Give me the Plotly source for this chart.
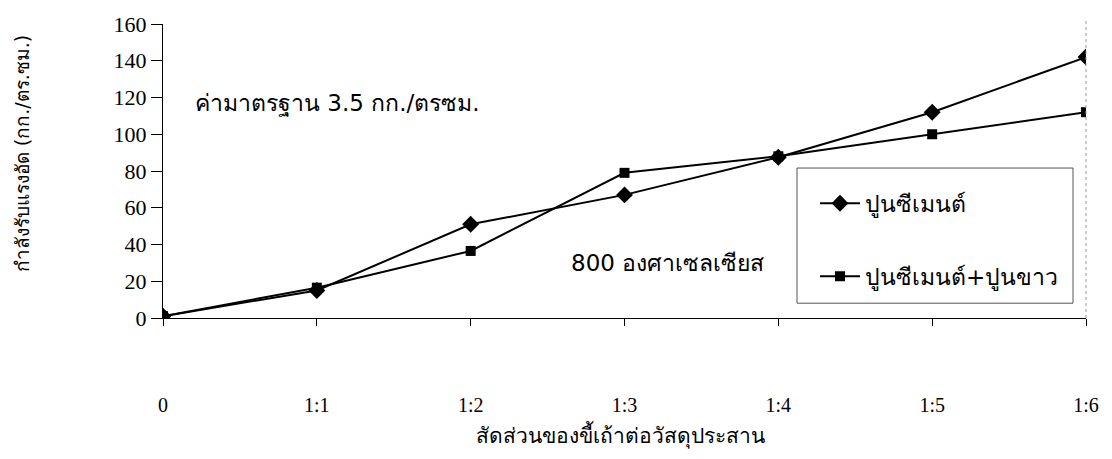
import plotly.graph_objects as go

# Mix ratios of ash to binder and compressive strength (kg/sq.cm)
ratios = ["0", "1:1", "1:2", "1:3", "1:4", "1:5", "1:6"]
cement = [1, 15, 51, 67, 87.5, 112, 142]
cement_lime = [1, 16.5, 36.5, 79, 88, 100, 112]
y_ticks = [0, 20, 40, 60, 80, 100, 120, 140, 160]

xpos = list(range(len(ratios)))

thai_font = "DejaVu Sans, Noto Sans, sans-serif"
serif_font = "Liberation Serif, Times New Roman, serif"

# plot area in pixels
L, R, T, B = 163, 1086, 20, 318


def px_x(px):
    return (px - L) / (R - L)


def px_y(py):
    return (B - py) / (B - T)


fig = go.Figure()
fig.add_trace(go.Scatter(
    x=xpos, y=cement, name="ปูนซีเมนต์", mode="lines+markers",
    line=dict(color="black", width=2),
    marker=dict(symbol="diamond", size=13, color="black"),
    legendgroup="a",
))
fig.add_trace(go.Scatter(
    x=xpos, y=cement_lime, name="ปูนซีเมนต์+ปูนขาว", mode="lines+markers",
    line=dict(color="black", width=2),
    marker=dict(symbol="square", size=10, color="black"),
    legendgroup="b",
))

fig.update_layout(
    width=1112, height=459,
    margin=dict(l=L, r=1112 - R, t=T, b=459 - B),
    paper_bgcolor="white", plot_bgcolor="white",
    showlegend=True,
    legend=dict(
        x=px_x(815), y=px_y(180),
        xanchor="left", yanchor="top",
        borderwidth=0, bgcolor="rgba(0,0,0,0)",
        font=dict(family=thai_font, size=23, color="black"),
        tracegroupgap=40, traceorder="grouped",
        itemwidth=40,
    ),
    xaxis=dict(
        range=[0, 6], tickvals=xpos, ticktext=ratios,
        showline=True, linecolor="black", linewidth=1,
        ticks="outside", ticklen=7, tickcolor="black",
        showgrid=False, zeroline=False,
        ticklabelstandoff=62,
        tickfont=dict(family=serif_font, size=20, color="black"),
    ),
    yaxis=dict(
        range=[0, 160], tickvals=y_ticks,
        showline=True, linecolor="black", linewidth=1,
        ticks="outside", ticklen=11, tickcolor="black",
        showgrid=False, zeroline=False,
        ticksuffix="\u00a0\u00a0",
        tickfont=dict(family=serif_font, size=22, color="black"),
    ),
)

# legend frame
fig.add_shape(type="rect", xref="paper", yref="paper",
              x0=px_x(797), x1=px_x(1073), y0=px_y(303), y1=px_y(166),
              line=dict(color="#555", width=1), fillcolor="white", layer="below")

# dotted border on the right side of the plot
fig.add_shape(type="line", xref="paper", yref="paper", x0=1, x1=1, y0=0, y1=px_y(14),
              line=dict(color="#999", width=1, dash="dot"))

fig.add_annotation(x=px_x(193), y=px_y(101), xref="paper", yref="paper",
                   xanchor="left", yanchor="middle",
                   text="ค่ามาตรฐาน 3.5 กก./ตรซม.", showarrow=False,
                   font=dict(family=thai_font, size=23, color="black"))
fig.add_annotation(x=px_x(569), y=px_y(262), xref="paper", yref="paper",
                   xanchor="left", yanchor="middle",
                   text="800 องศาเซลเซียส", showarrow=False,
                   font=dict(family=thai_font, size=23, color="black"))
fig.add_annotation(x=px_x(22), y=px_y(152), xref="paper", yref="paper",
                   xanchor="center", yanchor="middle",
                   text="กำลังรับแรงอัด (กก./ตร.ซม.)", textangle=-90, showarrow=False,
                   font=dict(family=thai_font, size=19, color="black"))
fig.add_annotation(x=px_x(620), y=px_y(437), xref="paper", yref="paper",
                   xanchor="center", yanchor="middle",
                   text="สัดส่วนของขี้เถ้าต่อวัสดุประสาน", showarrow=False,
                   font=dict(family=thai_font, size=21, color="black"))

fig.write_html("out.html")
